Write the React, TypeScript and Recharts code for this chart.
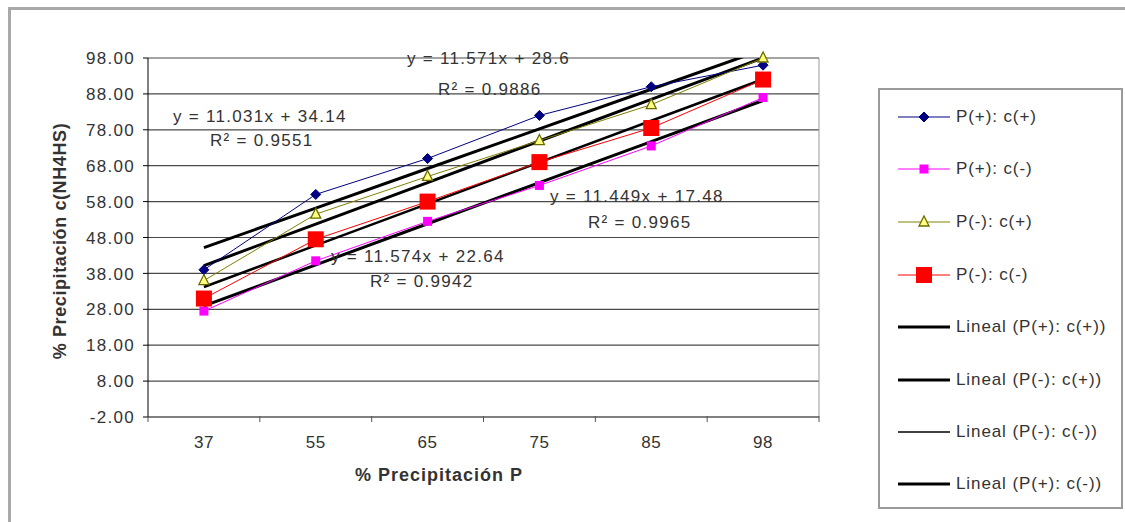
import React from 'react';
import { LineChart, Line, XAxis, YAxis, CartesianGrid, ReferenceLine, Legend } from 'recharts';

// ---------- data ----------
const categories = ['37', '55', '65', '75', '85', '98'];
const seriesNames = [
  'P(+): c(+)',
  'P(+): c(-)',
  'P(-): c(+)',
  'P(-): c(-)',
  'Lineal (P(+): c(+))',
  'Lineal (P(-): c(+))',
  'Lineal (P(-): c(-))',
  'Lineal (P(+): c(-))',
];
const pPlusCPlus = [39, 60, 70, 82, 90, 96];
const pPlusCMinus = [27.5, 41.5, 52.5, 62.5, 73.5, 87];
const pMinusCPlus = [36, 54.5, 65, 75, 85, 98];
const pMinusCMinus = [31, 47.5, 58, 69, 78.5, 92];
// trend lines (values of the displayed linear fits at each category)
const trendPPlusCPlus = [45.17, 56.2, 67.23, 78.26, 89.3, 100.33];
const trendPMinusCPlus = [40.17, 51.74, 63.31, 74.88, 86.46, 98.03];
const trendPMinusCMinus = [34.21, 45.79, 57.36, 68.94, 80.51, 92.08];
const trendPPlusCMinus = [28.93, 40.38, 51.83, 63.28, 74.73, 86.17];
const yTicks = [-2, 8, 18, 28, 38, 48, 58, 68, 78, 88, 98];
const equationTexts = [
  'y = 11.571x + 28.6',
  'R² = 0.9886',
  'y = 11.031x + 34.14',
  'R² = 0.9551',
  'y = 11.449x + 17.48',
  'R² = 0.9965',
  'y = 11.574x + 22.64',
  'R² = 0.9942',
];
const xTitle = '% Precipitación P';
const yTitle = '% Precipitación c(NH4HS)';

const data = categories.map((c, i) => ({
  idx: i + 1,
  cat: c,
  s1: pPlusCPlus[i],
  s2: pPlusCMinus[i],
  s3: pMinusCPlus[i],
  s4: pMinusCMinus[i],
  t1: trendPPlusCPlus[i],
  t2: trendPMinusCPlus[i],
  t3: trendPMinusCMinus[i],
  t4: trendPPlusCMinus[i],
}));
const xTicks = categories.flatMap((_, i) => [i + 0.5, i + 1]).concat([categories.length + 0.5]);

// ---------- layout / style ----------
const FONT = '"Liberation Sans", Arial, sans-serif';
const TEXT = '#333';
const equationPos = [
  { x: 407, y: 64 },
  { x: 438, y: 95 },
  { x: 173, y: 122 },
  { x: 210, y: 146 },
  { x: 550, y: 202 },
  { x: 588, y: 228 },
  { x: 331, y: 262 },
  { x: 370, y: 287 },
];

const Diamond = ({ cx, cy, size = 5 }: any) => (
  <polygon points={`${cx},${cy - size} ${cx + size},${cy} ${cx},${cy + size} ${cx - size},${cy}`} fill="#000080" stroke="#000080" />
);
const SmallSquare = ({ cx, cy, size = 9 }: any) => (
  <rect x={cx - size / 2} y={cy - size / 2} width={size} height={size} fill="#ff00ff" />
);
const Triangle = ({ cx, cy, size = 5 }: any) => (
  <polygon
    points={`${cx},${cy - size - 1} ${cx + size},${cy + size - 1} ${cx - size},${cy + size - 1}`}
    fill="#ffff80"
    stroke="#6b6b00"
    strokeWidth={1.3}
  />
);
const BigSquare = ({ cx, cy, size = 16 }: any) => (
  <rect x={cx - size / 2} y={cy - size / 2} width={size} height={size} fill="#ff0000" />
);

const markers: any[] = [Diamond, SmallSquare, Triangle, BigSquare];
const seriesColors = ['#000080', '#ff00ff', '#808000', '#ff0000'];

const XTick = (props: any) => {
  const { x, y, payload } = props;
  const v = payload.value;
  if (Number.isInteger(v)) {
    return (
      <text x={x} y={y + 31} textAnchor="middle" fontFamily={FONT} fontSize={17} fill={TEXT} letterSpacing={0.5}>
        {categories[v - 1]}
      </text>
    );
  }
  return <line x1={x} x2={x} y1={y - 1} y2={y + 5} stroke="#555" strokeWidth={1} />;
};

const YTick = (props: any) => {
  const { x, y, payload } = props;
  return (
    <text x={x} y={y} dy="0.36em" textAnchor="end" fontFamily={FONT} fontSize={17} fill={TEXT} letterSpacing={1.3}>
      {Number(payload.value).toFixed(2)}
    </text>
  );
};

const LegendBox = () => {
  const rowCenters = [27, 79, 132, 185, 237, 290, 342, 394];
  return (
    <div
      style={{
        position: 'relative',
        width: 245,
        height: 421,
        boxSizing: 'border-box',
        border: '2px solid #9a9a9a',
        background: '#fff',
      }}
    >
      {seriesNames.map((name, i) => {
        const M = i < 4 ? markers[i] : null;
        const color = i < 4 ? seriesColors[i] : '#000';
        const sw = i < 4 ? 1 : i === 6 ? 1.6 : 3;
        return (
          <div key={name} style={{ position: 'absolute', left: 0, top: rowCenters[i] - 12, height: 24, width: 243 }}>
            <svg width={76} height={24} style={{ position: 'absolute', left: 0, top: 0 }}>
              <line x1={18} x2={70} y1={12} y2={12} stroke={color} strokeWidth={sw} />
              {M ? <M cx={44} cy={12} /> : null}
            </svg>
            <span
              style={{
                position: 'absolute',
                left: 76,
                top: 2,
                fontFamily: FONT,
                fontSize: 17,
                color: TEXT,
                letterSpacing: '0.9px',
                whiteSpace: 'nowrap',
                lineHeight: '20px',
              }}
            >
              {name}
            </span>
          </div>
        );
      })}
    </div>
  );
};

export default function App() {
  const dotFns = markers.map((M, k) => (p: any) => <M key={`d${k}-${p.index}`} cx={p.cx} cy={p.cy} />);
  return (
    <div style={{ position: 'absolute', left: 0, top: 0, width: 1125, height: 522, background: '#fff', overflow: 'hidden' }}>
      <div
        style={{
          position: 'absolute',
          left: 8,
          top: 7,
          width: 1300,
          height: 700,
          borderLeft: '3px solid #a9a9a9',
          borderTop: '3px solid #a9a9a9',
        }}
      />
      <div style={{ position: 'absolute', left: 0, top: 0 }}>
        <LineChart width={1125} height={522} data={data} margin={{ top: 58, right: 306, left: 0, bottom: 0 }}>
          <CartesianGrid vertical={false} stroke="#4a4a4a" strokeWidth={1.2} />
          <XAxis
            dataKey="idx"
            type="number"
            domain={[0.5, 6.5]}
            ticks={xTicks}
            interval={0}
            tickLine={false}
            tickSize={0}
            tickMargin={0}
            height={105}
            axisLine={{ stroke: '#808080', strokeWidth: 2 }}
            tick={<XTick />}
            allowDecimals
          />
          <YAxis
            type="number"
            domain={[-2, 98]}
            ticks={yTicks}
            interval={0}
            width={148}
            tickSize={5}
            tickMargin={8}
            axisLine={{ stroke: '#000' }}
            tickLine={{ stroke: '#000' }}
            tick={<YTick />}
          />
          <YAxis yAxisId="trend" type="number" hide domain={[-2, 98]} allowDataOverflow />
          <ReferenceLine x={6.5} stroke="#999" strokeWidth={1} />
          <Line yAxisId="trend" type="linear" dataKey="t1" name={seriesNames[4]} stroke="#000" strokeWidth={3} dot={false} isAnimationActive={false} />
          <Line yAxisId="trend" type="linear" dataKey="t2" name={seriesNames[5]} stroke="#000" strokeWidth={3} dot={false} isAnimationActive={false} />
          <Line yAxisId="trend" type="linear" dataKey="t3" name={seriesNames[6]} stroke="#000" strokeWidth={2.5} dot={false} isAnimationActive={false} />
          <Line yAxisId="trend" type="linear" dataKey="t4" name={seriesNames[7]} stroke="#000" strokeWidth={3} dot={false} isAnimationActive={false} />
          <Line type="linear" dataKey="s1" name={seriesNames[0]} stroke="#000080" strokeWidth={1} dot={dotFns[0]} isAnimationActive={false} />
          <Line type="linear" dataKey="s2" name={seriesNames[1]} stroke="#ff00ff" strokeWidth={1} dot={dotFns[1]} isAnimationActive={false} />
          <Line type="linear" dataKey="s3" name={seriesNames[2]} stroke="#808000" strokeWidth={1} dot={dotFns[2]} isAnimationActive={false} />
          <Line type="linear" dataKey="s4" name={seriesNames[3]} stroke="#ff0000" strokeWidth={1} dot={dotFns[3]} isAnimationActive={false} />
          <Legend
            layout="vertical"
            align="center"
            verticalAlign="middle"
            wrapperStyle={{ left: 878, top: 88, width: 245, height: 421 }}
            content={() => <LegendBox />}
          />
        </LineChart>
      </div>
      <svg width={1125} height={522} style={{ position: 'absolute', left: 0, top: 0, pointerEvents: 'none' }}>
        {equationTexts.map((t, i) => (
          <text key={t} x={equationPos[i].x} y={equationPos[i].y} fontFamily={FONT} fontSize={17} fill={TEXT} letterSpacing={1.3}>
            {t}
          </text>
        ))}
        <text x={439} y={481} textAnchor="middle" fontFamily={FONT} fontSize={18} fontWeight="bold" fill={TEXT} letterSpacing={1}>
          {xTitle}
        </text>
        <text
          x={0}
          y={0}
          transform="translate(66,241) rotate(-90)"
          textAnchor="middle"
          fontFamily={FONT}
          fontSize={18}
          fontWeight="bold"
          fill={TEXT}
          letterSpacing={0.6}
        >
          {yTitle}
        </text>
      </svg>
    </div>
  );
}
